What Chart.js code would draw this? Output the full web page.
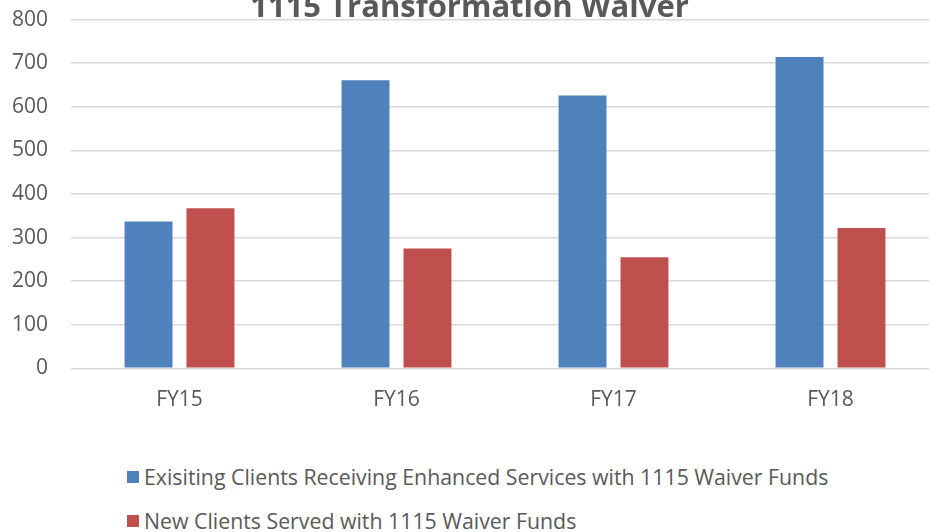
<!DOCTYPE html>
<html>
<head>
<meta charset="utf-8">
<script src="https://cdn.jsdelivr.net/npm/chart.js@4/dist/chart.umd.min.js"></script>
<style>
  html, body { margin: 0; padding: 0; background: #fff; width: 929px; height: 532px; overflow: hidden; }
  #wrap { position: absolute; left: 0; top: -16.5px; width: 940px; height: 447.5px; }
  #legend { position: absolute; left: 127px; top: 0; font-family: "Open Sans", sans-serif; font-size: 21.3px; color: #595959; }
  .item { position: absolute; left: 0; white-space: nowrap; display: flex; align-items: center; }
  .sw { width: 12px; height: 12px; margin-right: 5px; display: inline-block; }
</style>
</head>
<body>
<div id="wrap"><canvas id="c"></canvas></div>
<div id="legend"></div>
<script>
const title = "1115 Transformation Waiver";
const categories = ["FY15", "FY16", "FY17", "FY18"];
const seriesNames = [
  "Exisiting Clients Receiving Enhanced Services with 1115 Waiver Funds",
  "New Clients Served with 1115 Waiver Funds"
];
const existingClients = [337, 661, 626, 714];
const newClients = [367, 275, 255, 322];
const yTicks = [0, 100, 200, 300, 400, 500, 600, 700, 800];
const colors = ["#4F81BD", "#C0504D"];

const chart = new Chart(document.getElementById("c"), {
  type: "bar",
  data: {
    labels: categories,
    datasets: [
      { label: seriesNames[0], data: existingClients, backgroundColor: colors[0], categoryPercentage: 0.571, barPercentage: 0.774 },
      { label: seriesNames[1], data: newClients, backgroundColor: colors[1], categoryPercentage: 0.571, barPercentage: 0.774 }
    ]
  },
  options: {
    responsive: true,
    maintainAspectRatio: false,
    animation: false,
    layout: { padding: { top: 0, right: 1, bottom: 0, left: 0 } },
    plugins: {
      legend: { display: false },
      tooltip: { enabled: false },
      title: {
        display: true,
        text: title,
        color: "#595959",
        font: { family: "Open Sans", size: 31, weight: "bold", lineHeight: 0.9 },
        padding: { top: 3, bottom: -3 }
      }
    },
    scales: {
      x: {
        grid: { display: false, drawTicks: false },
        border: { display: false },
        ticks: { color: "#595959", font: { family: "Open Sans", size: 21 }, padding: 19 }
      },
      y: {
        min: 0, max: 800,
        afterBuildTicks: (s) => { s.ticks = yTicks.map(v => ({ value: v })); },
        afterFit: (s) => { s.width = 71; },
        grid: { color: "#d9d9d9", lineWidth: 1.5, drawTicks: false },
        border: { display: false },
        ticks: { color: "#595959", font: { family: "Open Sans", size: 21 }, padding: 23 }
      }
    }
  }
});

const legend = document.getElementById("legend");
const tops = [462, 506];
seriesNames.forEach((n, i) => {
  const d = document.createElement("div");
  d.className = "item";
  d.style.top = tops[i] + "px";
  const sw = document.createElement("span");
  sw.className = "sw";
  sw.style.background = colors[i];
  const t = document.createElement("span");
  t.textContent = n;
  d.appendChild(sw); d.appendChild(t);
  legend.appendChild(d);
});
</script>
</body>
</html>
